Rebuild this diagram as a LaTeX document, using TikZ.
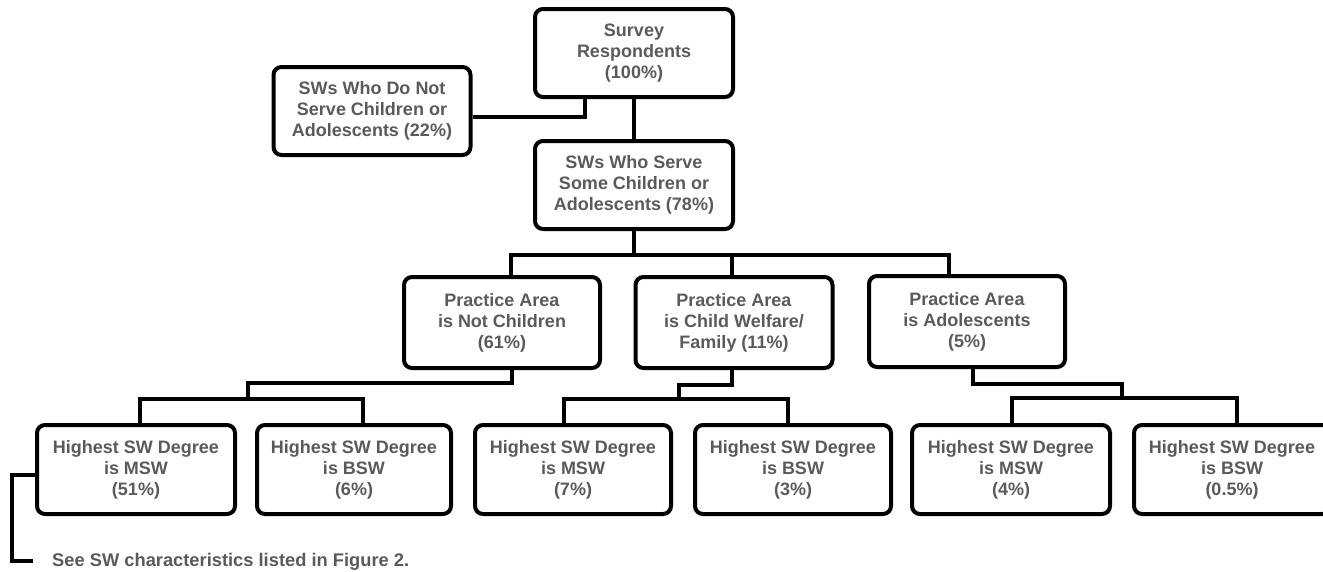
\documentclass[tikz,border=0pt]{standalone}
\usepackage{fontspec}
\setmainfont{Liberation Sans}
\definecolor{boxtext}{RGB}{90,90,90}
\tikzset{
    box/.style = {draw, line width=4pt, rounded corners=8pt, minimum width=#1,
        minimum height=88pt, inner sep=0pt, align=center, text=boxtext,
        font=\bfseries\fontsize{18}{21}\selectfont},
    link/.style = {line width=4pt},
    note/.style = {text=boxtext, font=\bfseries\fontsize{18.3}{21}\selectfont, inner sep=0pt}
}

\begin{document}
\begin{tikzpicture}[x=1pt,y=-1pt]
    \useasboundingbox (0,0) rectangle (1323,571);

    \node[box=198pt] (survey) at (634,53) {Survey\\Respondents\\(100\%)};
    \node[box=197pt] (notserve) at (372,111) {SWs Who Do Not\\Serve Children or\\Adolescents (22\%)};
    \node[box=198pt] (serve) at (634,185) {SWs Who Serve\\Some Children or\\Adolescents (78\%)};
    \coordinate(sv1) at (585,117);

    \node[box=196pt, minimum height=91pt] (notchild) at (502,322.5) {Practice Area\\is Not Children\\(61\%)};
    \node[box=197pt, minimum height=91pt] (welfare) at (734,322.5) {Practice Area\\is Child Welfare/\\Family (11\%)};
    \node[box=196pt, minimum height=91pt] (adol) at (967,321.5) {Practice Area\\is Adolescents\\(5\%)};
    \coordinate(bus1) at (636,255);
    \coordinate(nc) at (511,255);
    \coordinate(wf) at (732,255);
    \coordinate(ad) at (949,255);

    \node[box=198pt, minimum height=89pt] (msw1) at (136,469.5) {Highest SW Degree\\is MSW\\(51\%)};
    \node[box=194pt, minimum height=89pt] (bsw1) at (354,469.5) {Highest SW Degree\\is BSW\\(6\%)};
    \node[box=196pt, minimum height=89pt] (msw2) at (573,469.5) {Highest SW Degree\\is MSW\\(7\%)};
    \node[box=196pt, minimum height=89pt] (bsw2) at (793,469.5) {Highest SW Degree\\is BSW\\(3\%)};
    \node[box=198pt, minimum height=89pt] (msw3) at (1011,469.5) {Highest SW Degree\\is MSW\\(4\%)};
    \node[box=196pt, minimum height=89pt] (bsw3) at (1232,469.5) {Highest SW Degree\\is BSW\\(0.5\%)};

    \coordinate(nc1) at (512,383);
    \coordinate(nc2) at (248,383);
    \coordinate(ncL) at (140,399);
    \coordinate(ncR) at (363,399);
    \coordinate(wf1) at (732,385);
    \coordinate(wf2) at (679,385);
    \coordinate(wfL) at (564,399);
    \coordinate(wfR) at (788,399);
    \coordinate(ad1) at (973,384);
    \coordinate(ad2) at (1122,384);
    \coordinate(adL) at (1012,398);
    \coordinate(adR) at (1237,398);

    \node[note, anchor=west] (seenote) at (52,562) {See SW characteristics listed in Figure 2.};
    \coordinate(fn1) at (12,475);
    \coordinate(fn2) at (33,561);

    \draw [link] (survey.south) -- (serve.north);
    \draw [link] (survey.south -| sv1) -- (sv1) -- (sv1 -| notserve.east);

    \draw [link] (serve.south) -- (serve.south |- bus1);
    \draw [link] (notchild.north -| nc) -- (nc) -- (ad) -- (adol.north -| ad);
    \draw [link] (wf) -- (welfare.north -| wf);

    \draw [link] (notchild.south -| nc1) -- (nc1) -- (nc2) -- (nc2 |- ncL);
    \draw [link] (msw1.north -| ncL) -- (ncL) -- (ncR) -- (bsw1.north -| ncR);
    \draw [link] (welfare.south -| wf1) -- (wf1) -- (wf2) -- (wf2 |- wfL);
    \draw [link] (msw2.north -| wfL) -- (wfL) -- (wfR) -- (bsw2.north -| wfR);
    \draw [link] (adol.south -| ad1) -- (ad1) -- (ad2) -- (ad2 |- adL);
    \draw [link] (msw3.north -| adL) -- (adL) -- (adR) -- (bsw3.north -| adR);

    \draw [link] (msw1.west |- fn1) -- (fn1) |- (fn2);

\end{tikzpicture}
\end{document}
